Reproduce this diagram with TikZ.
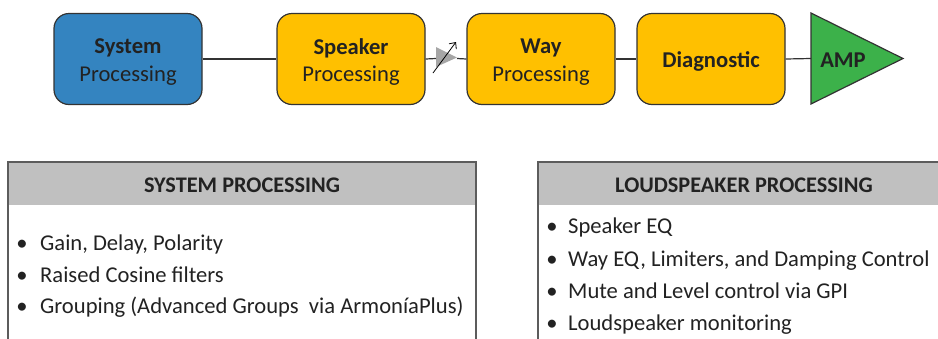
\documentclass[tikz,border=0pt]{standalone}
\usepackage{fontspec}
\setmainfont{Carlito}
\usetikzlibrary{arrows.meta}
\definecolor{sysblue}{HTML}{3484C0}
\definecolor{spkyellow}{HTML}{FFC000}
\definecolor{ampgreen}{HTML}{3CB14A}
\definecolor{hdrgray}{HTML}{C0C0C0}
\definecolor{edgegray}{HTML}{333333}
\definecolor{txt}{HTML}{222222}
\definecolor{gaingray}{HTML}{A6A6A6}
\begin{document}
\begin{tikzpicture}[x=1pt,y=-1pt,
  blockbox/.style={draw=edgegray,line width=1.2pt,rounded corners=15pt,minimum width=148pt,minimum height=91pt,inner sep=0pt},
  blocktext/.style={align=center,text=txt,font=\fontsize{22.6}{27.5}\selectfont,inner sep=0pt,yshift=#1},
  wire/.style={draw=edgegray,line width=1.2pt},
  itemtext/.style={anchor=base west,inner sep=0pt,text=txt,font=\fontsize{22.6}{26}\selectfont},
  bul/.style={anchor=base,inner sep=0pt,text=txt,font=\fontsize{22.6}{26}\selectfont},
  hdrtext/.style={anchor=base,inner sep=0pt,text=txt,font=\fontsize{22.3}{26}\selectfont\bfseries},
  panelline/.style={draw=edgegray!80,line width=1.3pt}]
\useasboundingbox (0,0) rectangle (938,338);
\clip (0,0) rectangle (938,338);
% top chain
\node[blockbox,fill=sysblue,label={[blocktext=-3pt]center:{\textbf{System}\\Processing}}] (sys) at (128,59) {};
\node[blockbox,fill=spkyellow,label={[blocktext=-3pt]center:{\textbf{Speaker}\\Processing}}] (spk) at (351,59) {};
\node[blockbox,fill=spkyellow,label={[blocktext=-3pt]center:{\textbf{Way}\\Processing}}] (way) at (541,59) {};
\node[blockbox,fill=spkyellow,label={[blocktext=-2pt]center:{\textbf{Diagnostic}}}] (diag) at (711,59) {};
% AMP triangle
\draw[edgegray,line width=1.2pt,fill=ampgreen,line join=miter] (811,13) -- (903,58.5) -- (811,104) -- cycle;
\coordinate (ampin) at (811,58.5);
\node[text=txt,font=\fontsize{22.6}{26}\selectfont\bfseries,inner sep=0pt] (amp) at (843,60) {AMP};
% gain element
\fill[gaingray] (436,47) -- (457,57.5) -- (436,67) -- cycle;
\coordinate (gin) at (436,58.5);
\coordinate (gout) at (457,58.5);
\coordinate (ga) at (433,73);
\coordinate (gb) at (456,42);
\draw[black,line width=0.8pt,-{Straight Barb[length=5pt,width=9pt]}] (ga) -- (gb);
% connectors
\draw[wire] (sys.east) -- (spk.west);
\draw[wire] (spk.east) -- (gin);
\draw[wire] (gout) -- (way.west);
\draw[wire] (way.east) -- (diag.west);
\draw[wire] (diag.east) -- (ampin);
% left panel
\fill[hdrgray] (8,162) rectangle (476,205);
\draw[panelline] (8,345) -- (8,162) -- (476,162) -- (476,345);
\node[hdrtext] (hl) at (242,192) {SYSTEM PROCESSING};
\foreach \yy/\tt [count=\i] in {250.5/{Gain, Delay, Polarity},282/{Raised Cosine filters},313/{Grouping (Advanced Groups\ \ via ArmoníaPlus)}}{
  \node[bul] (lb\i) at (22,\yy) {•};
  \node[itemtext] (lt\i) at (40,\yy) {\tt};
}
% right panel
\fill[hdrgray] (538,162) rectangle (950,205);
\draw[panelline] (538,345) -- (538,162) -- (950,162);
\node[hdrtext] (hr) at (744,192) {LOUDSPEAKER PROCESSING};
\foreach \yy/\tt [count=\i] in {233.5/{Speaker EQ},266/{Way EQ, Limiters, and Damping Control},298/{Mute and Level control via GPI},330.5/{Loudspeaker monitoring}}{
  \node[bul] (rb\i) at (552,\yy) {•};
  \node[itemtext] (rt\i) at (568,\yy) {\tt};
}
\end{tikzpicture}
\end{document}
